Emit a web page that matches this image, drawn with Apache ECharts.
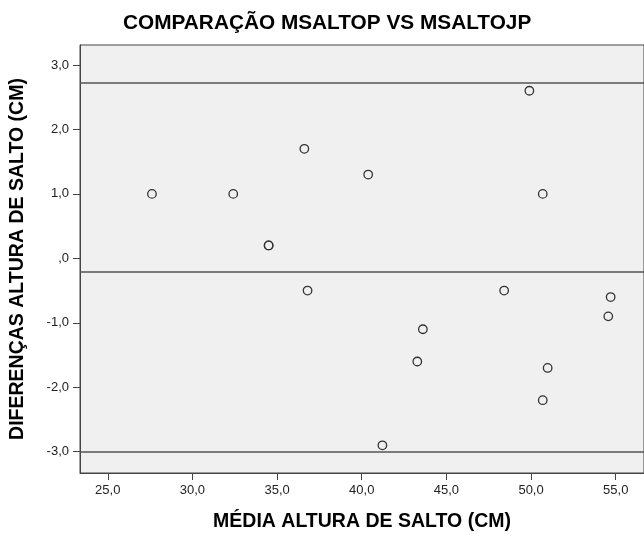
<!DOCTYPE html>
<html>
<head>
<meta charset="utf-8">
<script src="https://cdn.jsdelivr.net/npm/echarts@6/dist/echarts.min.js"></script>
<style>html,body{margin:0;padding:0;background:#fff}#c{width:644px;height:537px}</style>
</head>
<body>
<div id="c"></div>
<script>
var titleText = 'COMPARAÇÃO MSALTOP VS MSALTOJP';
var xName = 'MÉDIA ALTURA DE SALTO (CM)';
var yName = 'DIFERENÇAS ALTURA DE SALTO (CM)';
var meanValues = [27.61, 32.41, 34.50, 34.50, 36.61, 36.80, 40.38, 41.22, 43.28, 43.61, 48.41, 49.90, 50.69, 50.69, 50.98, 54.56, 54.70];
var diffValues = [1.0, 1.0, 0.2, 0.2, 1.7, -0.5, 1.3, -2.9, -1.6, -1.1, -0.5, 2.6, 1.0, -2.2, -1.7, -0.9, -0.6];
var refLines = [2.72, -0.21, -3.0];
var xTicks = [25, 30, 35, 40, 45, 50, 55];
var yTicks = [-3, -2, -1, 0, 1, 2, 3];

function fmt(v) {
  var s = Number(v).toFixed(1).replace('.', ',');
  if (s === '0,0') return ',0';
  return s;
}

var points = meanValues.map(function (m, i) { return [m, diffValues[i]]; });
var font = 'Arial, "Liberation Sans", sans-serif';

var chart = echarts.init(document.getElementById('c'));
chart.setOption({
  animation: false,
  backgroundColor: '#ffffff',
  title: {
    text: titleText,
    left: 118,
    top: 8,
    textStyle: { fontFamily: font, fontSize: 20.8, fontWeight: 'bold', color: '#000' }
  },
  grid: {
    left: 80, top: 45, right: -10, bottom: 62,
    show: true, backgroundColor: '#f0f0f0', borderColor: '#444', borderWidth: 1
  },
  xAxis: {
    type: 'value', min: 23.36, max: 56.67,
    name: xName, nameLocation: 'middle', nameGap: 39,
    nameTextStyle: { fontFamily: font, fontSize: 19.5, fontWeight: 'bold', color: '#000' },
    axisLine: { show: true, onZero: false, lineStyle: { color: '#444', width: 1 } },
    axisTick: { show: true, length: 7, customValues: xTicks, lineStyle: { color: '#444' } },
    axisLabel: { customValues: xTicks, formatter: fmt, margin: 11, fontFamily: font, fontSize: 13, color: '#222' },
    splitLine: { show: false }
  },
  yAxis: {
    type: 'value', min: -3.33, max: 3.31,
    name: yName, nameLocation: 'middle', nameGap: 52, nameRotate: 90,
    nameTextStyle: { fontFamily: font, fontSize: 19.5, fontWeight: 'bold', color: '#000' },
    axisLine: { show: true, onZero: false, lineStyle: { color: '#444', width: 1 } },
    axisTick: { show: true, length: 7, customValues: yTicks, lineStyle: { color: '#444' } },
    axisLabel: { customValues: yTicks, formatter: fmt, margin: 11, fontFamily: font, fontSize: 13, color: '#222' },
    splitLine: { show: false }
  },
  series: [{
    type: 'scatter',
    data: points,
    symbol: 'circle',
    symbolSize: 8.5,
    itemStyle: { color: 'rgba(0,0,0,0)', borderColor: '#333', borderWidth: 1.3, opacity: 1 },
    markLine: {
      silent: true,
      symbol: 'none',
      label: { show: false },
      lineStyle: { color: '#555', width: 1.5, type: 'solid' },
      data: refLines.map(function (v) { return { yAxis: v }; })
    }
  }]
});
</script>
</body>
</html>
